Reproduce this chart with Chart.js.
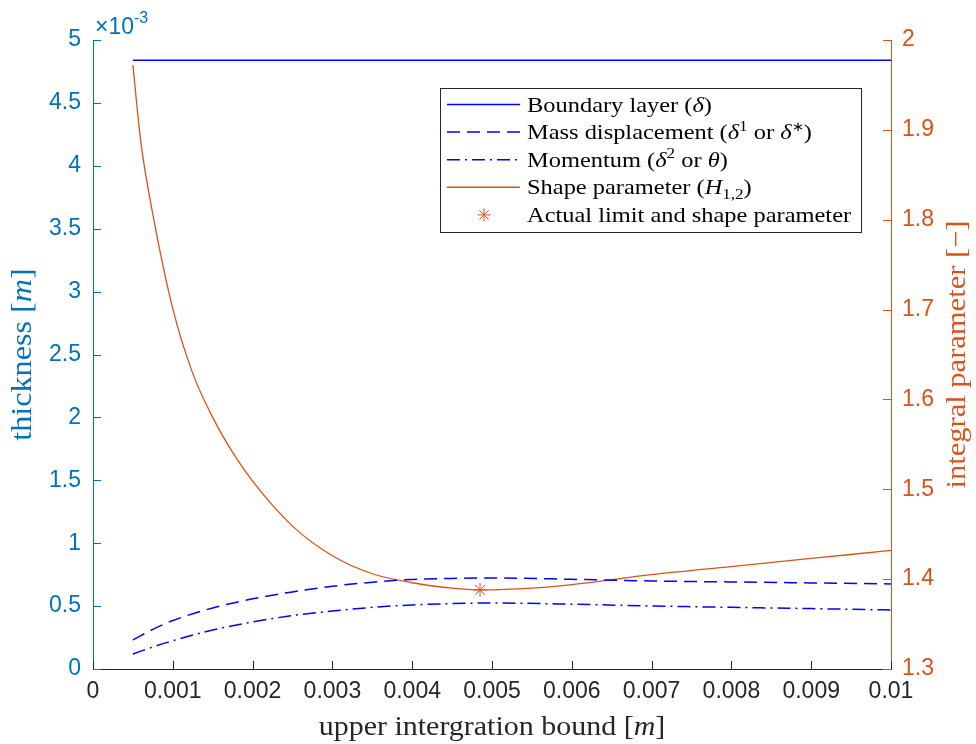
<!DOCTYPE html>
<html>
<head>
<meta charset="utf-8">
<script src="https://cdn.jsdelivr.net/npm/chart.js@4.4.1/dist/chart.umd.min.js"></script>
<style>
  html, body { margin: 0; padding: 0; background: #fff; }
  canvas { display: block; }
</style>
</head>
<body>
<canvas id="bl" width="976" height="744"></canvas>
<script>
// upper integration bound [m]
const xBoundary = [0.0005, 0.01];
const xThick = [0.0005, 0.00075, 0.001, 0.0015, 0.002, 0.0025, 0.003, 0.0035, 0.004, 0.0045, 0.005, 0.006, 0.007, 0.008, 0.009, 0.01];
const xShape = [0.0005, 0.0006, 0.00075, 0.001, 0.00125, 0.0015, 0.00175, 0.002, 0.0025, 0.003, 0.0035, 0.004, 0.0045, 0.00485, 0.0055, 0.006, 0.007, 0.008, 0.009, 0.01];

// thicknesses in units of 1e-3 m
const boundaryLayer = [4.84, 4.84];
const massDisplacement = [0.231, 0.315, 0.385, 0.485, 0.558, 0.613, 0.658, 0.690, 0.712, 0.720, 0.723, 0.713, 0.700, 0.692, 0.684, 0.676];
const momentum = [0.119, 0.175, 0.225, 0.310, 0.374, 0.425, 0.461, 0.490, 0.509, 0.520, 0.525, 0.515, 0.501, 0.490, 0.480, 0.469];

// shape parameter H12 (right axis)
const shapeParam = [1.972, 1.886, 1.806, 1.701, 1.629, 1.580, 1.541, 1.509, 1.459, 1.426, 1.406, 1.396, 1.390, 1.388, 1.390, 1.394, 1.405, 1.414, 1.423, 1.432];
const actualLimit = [0.00485];
const actualShape = [1.388];

// tick values
const xTicks = [0, 0.001, 0.002, 0.003, 0.004, 0.005, 0.006, 0.007, 0.008, 0.009, 0.01];
const leftTicks = [0, 0.5, 1, 1.5, 2, 2.5, 3, 3.5, 4, 4.5, 5];
const rightTicks = [1.3, 1.4, 1.5, 1.6, 1.7, 1.8, 1.9, 2];

const BLUE = '#0000FF';
const AX_BLUE = '#0072BD';
const ORANGE = '#D95319';
const DARK = '#262626';
const SANS = '"Liberation Sans", Arial, sans-serif';
const SERIF = '"Liberation Serif", "Times New Roman", serif';
const STRETCH = 1.11; // widen Times a bit so it runs like a LaTeX face

const pts = (xs, ys) => xs.map((x, i) => ({ x: x, y: ys[i] }));

// draws text made of plain / italic / super / subscript parts
function richParts(ctx, parts, size, draw, x, y) {
    let cx = x;
    parts.forEach(p => {
        const o = typeof p === 'string' ? { t: p } : p;
        let fs = size, dy = 0;
        if (o.sup) { fs = size * (o.small || 0.7); dy = -size * 0.38; }
        if (o.sub) { fs = size * 0.7; dy = size * 0.2; }
        ctx.font = (o.i ? 'italic ' : '') + fs + 'px ' + SERIF;
        if (draw) ctx.fillText(o.t, cx, y + dy);
        cx += ctx.measureText(o.t).width;
    });
    return cx - x;
}
// x, y: anchor on the baseline
function drawRich(ctx, parts, x, y, size, color, align) {
    ctx.save();
    ctx.fillStyle = color;
    ctx.textBaseline = 'alphabetic';
    ctx.textAlign = 'left';
    const w = richParts(ctx, parts, size, false, 0, 0) * STRETCH;
    const sx = align === 'center' ? x - w / 2 : x;
    ctx.translate(sx, y);
    ctx.scale(STRETCH, 1);
    richParts(ctx, parts, size, true, 0, 0);
    ctx.restore();
}

// inward tick marks, axis titles, exponent and legend box
const decorations = {
    id: 'decorations',
    afterDraw(chart) {
        const { ctx, chartArea: a, scales } = chart;
        ctx.save();
        ctx.lineWidth = 1;
        const tick = (color, x1, y1, x2, y2) => {
            ctx.strokeStyle = color;
            ctx.beginPath(); ctx.moveTo(x1, y1); ctx.lineTo(x2, y2); ctx.stroke();
        };
        scales.x.ticks.forEach(t => {
            const p = Math.round(scales.x.getPixelForValue(t.value)) + 0.5;
            tick(DARK, p, a.bottom, p, a.bottom - 8);
        });
        scales.y.ticks.forEach(t => {
            const p = Math.round(scales.y.getPixelForValue(t.value)) + 0.5;
            tick(AX_BLUE, a.left, p, a.left + 8, p);
        });
        scales.y1.ticks.forEach(t => {
            const p = Math.round(scales.y1.getPixelForValue(t.value)) + 0.5;
            tick(ORANGE, a.right, p, a.right - 8, p);
        });

        // exponent of the left axis
        ctx.fillStyle = AX_BLUE;
        ctx.textBaseline = 'alphabetic';
        ctx.textAlign = 'left';
        ctx.font = '23px ' + SANS;
        ctx.fillText('\u00d710', 95, 34);
        const w10 = ctx.measureText('\u00d710').width;
        ctx.font = '16px ' + SANS;
        ctx.fillText('-3', 95 + w10, 23);

        // axis titles
        drawRich(ctx, ['upper intergration bound [', { t: 'm', i: true }, ']'], (a.left + a.right) / 2, 735, 27, DARK, 'center');
        ctx.save();
        ctx.translate(31, (a.top + a.bottom) / 2);
        ctx.rotate(-Math.PI / 2);
        drawRich(ctx, ['thickness [', { t: 'm', i: true }, ']'], 0, 0, 29, AX_BLUE, 'center');
        ctx.restore();
        ctx.save();
        ctx.translate(965, (a.top + a.bottom) / 2);
        ctx.rotate(-Math.PI / 2);
        drawRich(ctx, ['integral parameter [\u2212]'], 0, 0, 27.5, ORANGE, 'center');
        ctx.restore();

        // legend
        const bx = 440.5, by = 88.5, bw = 421, bh = 144;
        ctx.fillStyle = '#fff';
        ctx.fillRect(bx, by, bw, bh);
        ctx.strokeStyle = DARK;
        ctx.strokeRect(bx, by, bw, bh);
        const rows = [
            { color: BLUE, dash: [], parts: ['Boundary layer (', { t: '\u03b4', i: true }, ')'] },
            { color: BLUE, dash: [13, 7], parts: ['Mass displacement (', { t: '\u03b4', i: true }, { t: '1', sup: true }, ' or ', { t: '\u03b4', i: true }, { t: '\u2217', sup: true, small: 0.6 }, ')'] },
            { color: BLUE, dash: [13, 5, 2, 5], parts: ['Momentum (', { t: '\u03b4', i: true }, { t: '2', sup: true }, ' or ', { t: '\u03b8', i: true }, ')'] },
            { color: ORANGE, dash: [], parts: ['Shape parameter (', { t: 'H', i: true }, { t: '1,2', sub: true }, ')'] },
            { color: ORANGE, star: true, parts: ['Actual limit and shape parameter'] }
        ];
        rows.forEach((r, i) => {
            const y = 104.5 + i * 27.6;
            if (r.star) {
                const s = 6.5, cx = 484, cy = y;
                ctx.strokeStyle = r.color;
                ctx.setLineDash([]);
                ctx.beginPath();
                ctx.moveTo(cx - s, cy); ctx.lineTo(cx + s, cy);
                ctx.moveTo(cx, cy - s); ctx.lineTo(cx, cy + s);
                const d = s * 0.72;
                ctx.moveTo(cx - d, cy - d); ctx.lineTo(cx + d, cy + d);
                ctx.moveTo(cx - d, cy + d); ctx.lineTo(cx + d, cy - d);
                ctx.stroke();
            } else {
                ctx.strokeStyle = r.color;
                ctx.lineWidth = 1.5;
                ctx.setLineDash(r.dash);
                ctx.beginPath(); ctx.moveTo(447, y); ctx.lineTo(520, y); ctx.stroke();
                ctx.setLineDash([]);
                ctx.lineWidth = 1;
            }
            drawRich(ctx, r.parts, 527, y + 7, 22, '#000', 'left');
        });
        ctx.restore();
    }
};

const fmt = v => String(Number(v.toFixed(6)));
const tickFont = { family: SANS, size: 23 };

new Chart(document.getElementById('bl'), {
    type: 'scatter',
    data: {
        datasets: [
            { data: pts(xBoundary, boundaryLayer), yAxisID: 'y', showLine: true, borderColor: BLUE, borderWidth: 1.5, pointRadius: 0 },
            { data: pts(xThick, massDisplacement), yAxisID: 'y', showLine: true, borderColor: BLUE, borderWidth: 1.5, borderDash: [13, 7], pointRadius: 0, cubicInterpolationMode: 'monotone' },
            { data: pts(xThick, momentum), yAxisID: 'y', showLine: true, borderColor: BLUE, borderWidth: 1.5, borderDash: [13, 5, 2, 5], pointRadius: 0, cubicInterpolationMode: 'monotone' },
            { data: pts(xShape, shapeParam), yAxisID: 'y1', showLine: true, borderColor: ORANGE, borderWidth: 1.3, pointRadius: 0, cubicInterpolationMode: 'monotone' },
            { data: pts(actualLimit, actualShape), yAxisID: 'y1', showLine: false, borderColor: ORANGE, backgroundColor: ORANGE, borderWidth: 1, pointStyle: 'star', pointRadius: 7 }
        ]
    },
    options: {
        responsive: false,
        animation: false,
        layout: { padding: { top: 40, left: 0, right: 0, bottom: 0 } },
        plugins: { legend: { display: false }, tooltip: { enabled: false } },
        scales: {
            x: {
                type: 'linear', min: 0, max: 0.01,
                afterBuildTicks: s => { s.ticks = xTicks.map(v => ({ value: v })); },
                afterFit: s => { s.height = 75; },
                grid: { drawOnChartArea: false, drawTicks: false },
                border: { color: DARK, width: 1 },
                ticks: { color: DARK, padding: 9, maxRotation: 0, autoSkip: false, font: tickFont, callback: v => fmt(v) }
            },
            y: {
                type: 'linear', position: 'left', min: 0, max: 5,
                afterBuildTicks: s => { s.ticks = leftTicks.map(v => ({ value: v })); },
                afterFit: s => { s.width = 93; },
                grid: { drawOnChartArea: false, drawTicks: false },
                border: { color: AX_BLUE, width: 1 },
                ticks: { color: AX_BLUE, padding: 12, autoSkip: false, font: tickFont, callback: v => fmt(v) }
            },
            y1: {
                type: 'linear', position: 'right', min: 1.3, max: 2,
                afterBuildTicks: s => { s.ticks = rightTicks.map(v => ({ value: v })); },
                afterFit: s => { s.width = 85; },
                grid: { drawOnChartArea: false, drawTicks: false },
                border: { color: ORANGE, width: 1 },
                ticks: { color: ORANGE, padding: 11, autoSkip: false, font: tickFont, callback: v => fmt(v) }
            }
        }
    },
    plugins: [decorations]
});
</script>
</body>
</html>
